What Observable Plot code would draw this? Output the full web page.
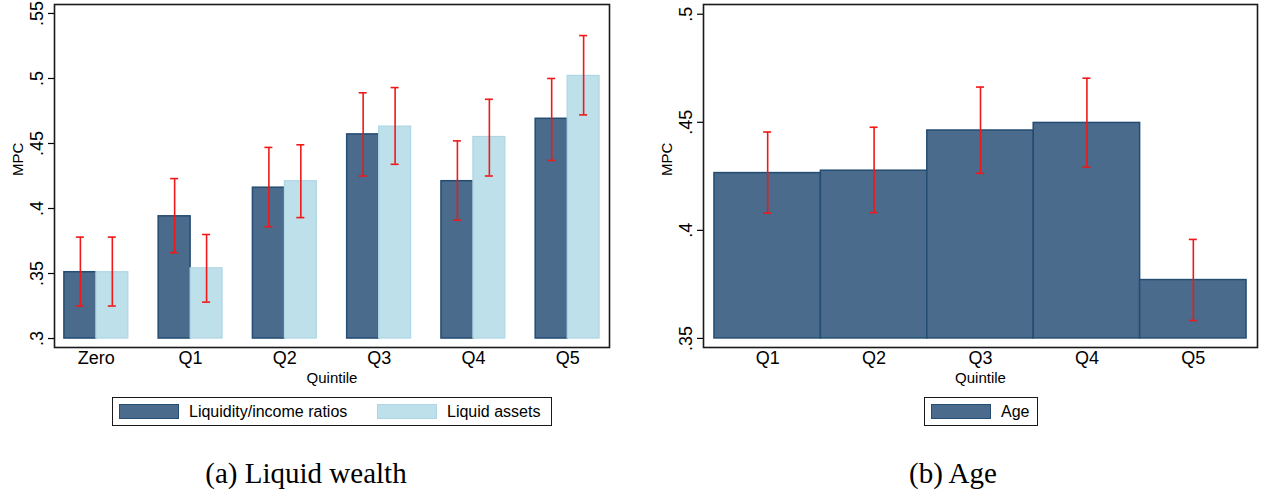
<!DOCTYPE html>
<html><head><meta charset="utf-8">
<script src="https://cdn.jsdelivr.net/npm/d3@7"></script>
<script src="https://cdn.jsdelivr.net/npm/@observablehq/plot@0.6"></script>
<style>
html,body{margin:0;padding:0;background:#fff}
body{width:1261px;height:491px;position:relative;overflow:hidden;font-family:"Liberation Sans",Arial,sans-serif;color:#000}
.panel{position:absolute;top:0}
.legend{position:absolute;top:397px;height:29px;border:1px solid #1a1a1a;box-sizing:border-box;font-size:16px}
.sw{position:absolute;top:6px;width:60px;height:15px;box-sizing:border-box}
.lt{position:absolute;top:0;line-height:27px;white-space:nowrap}
.cap{position:absolute;top:459px;font-family:"Liberation Serif","Times New Roman",serif;font-size:29px;line-height:29px;text-align:center;white-space:nowrap}
</style></head>
<body>
<div id="pa" class="panel" style="left:0"></div>
<div id="pb" class="panel" style="left:631px"></div>
<div class="legend" style="left:112px;width:440px">
  <div class="sw" style="left:6px;background:#4a6b8b;border:1.5px solid #234d72"></div>
  <div class="lt" style="left:76px">Liquidity/income ratios</div>
  <div class="sw" style="left:264px;background:#bee0ea;border:1.5px solid #aed6e4"></div>
  <div class="lt" style="left:334px">Liquid assets</div>
</div>
<div class="legend" style="left:924px;width:114px">
  <div class="sw" style="left:6px;background:#4a6b8b;border:1.5px solid #234d72"></div>
  <div class="lt" style="left:76px">Age</div>
</div>
<div class="cap" style="left:156px;width:300px">(a) Liquid wealth</div>
<div class="cap" style="left:803px;width:300px">(b) Age</div>
<script>
// ---- Panel (a): liquid wealth ----
const categoriesA = ["Zero", "Q1", "Q2", "Q3", "Q4", "Q5"];
const ratioMPC = [0.351, 0.394, 0.416, 0.457, 0.421, 0.469];
const ratioLo  = [0.325, 0.366, 0.386, 0.425, 0.391, 0.437];
const ratioHi  = [0.378, 0.423, 0.447, 0.489, 0.452, 0.500];
const assetsMPC = [0.351, 0.354, 0.421, 0.463, 0.455, 0.502];
const assetsLo  = [0.325, 0.328, 0.393, 0.434, 0.425, 0.472];
const assetsHi  = [0.378, 0.380, 0.449, 0.493, 0.484, 0.533];
const yTicksA = [0.3, 0.35, 0.4, 0.45, 0.5, 0.55];
const baseA = 0.3;

// ---- Panel (b): age ----
const categoriesB = ["Q1", "Q2", "Q3", "Q4", "Q5"];
const ageMPC = [0.4265, 0.4276, 0.4462, 0.4497, 0.3770];
const ageLo  = [0.4080, 0.4082, 0.4264, 0.4293, 0.3583];
const ageHi  = [0.4455, 0.4477, 0.4663, 0.4704, 0.3958];
const yTicksB = [0.35, 0.4, 0.45, 0.5];
const baseB = 0.35;

const fmt = d => String(d).replace(/^0\./, ".");
const DARK = "#4a6b8b", DARK_S = "#234d72", LIGHT = "#bee0ea", LIGHT_S = "#aed6e4", RED = "#f01818";
const font = {fontFamily: "Liberation Sans, Arial, sans-serif", fontSize: "18px", color: "#000", background: "#fff"};

const dataA = categoriesA.map((c, i) => ({cat: c, ratio: ratioMPC[i], rlo: ratioLo[i], rhi: ratioHi[i],
  assets: assetsMPC[i], alo: assetsLo[i], ahi: assetsHi[i]}));
const dataB = categoriesB.map((c, i) => ({cat: c, mpc: ageMPC[i], lo: ageLo[i], hi: ageHi[i]}));

// geometry A
const WA = 630, HA = 390, mlA = 54, mrA = 21, mtA = 4, mbA = 43;
const piA = 0.322, poA = 0.105;
const stepA = (WA - mlA - mrA) / (categoriesA.length - piA + 2 * poA);
const bwA = stepA * (1 - piA), halfA = bwA / 2, qA = bwA / 4, capW = 8;

const plotA = Plot.plot({
  width: WA, height: HA, marginLeft: mlA, marginRight: mrA, marginTop: mtA, marginBottom: mbA,
  style: font,
  x: {domain: categoriesA, paddingInner: piA, paddingOuter: poA, round: false, axis: null},
  y: {domain: [0.2931, 0.5569], axis: null},
  marks: [
    Plot.barY(dataA, {x: "cat", y1: baseA, y2: "ratio", fill: DARK, stroke: DARK_S, strokeWidth: 1.5, insetRight: halfA}),
    Plot.barY(dataA, {x: "cat", y1: baseA, y2: "assets", fill: LIGHT, stroke: LIGHT_S, strokeWidth: 1.2, insetLeft: halfA}),
    Plot.ruleX(dataA, {x: "cat", y1: "rlo", y2: "rhi", dx: -qA, stroke: RED, strokeWidth: 1.6}),
    Plot.ruleX(dataA, {x: "cat", y1: "alo", y2: "ahi", dx: qA, stroke: RED, strokeWidth: 1.6}),
    Plot.tickY(dataA, {x: "cat", y: "rhi", insetLeft: qA - capW/2, insetRight: bwA - qA - capW/2, stroke: RED, strokeWidth: 1.6}),
    Plot.tickY(dataA, {x: "cat", y: "rlo", insetLeft: qA - capW/2, insetRight: bwA - qA - capW/2, stroke: RED, strokeWidth: 1.6}),
    Plot.tickY(dataA, {x: "cat", y: "ahi", insetLeft: bwA - qA - capW/2, insetRight: qA - capW/2, stroke: RED, strokeWidth: 1.6}),
    Plot.tickY(dataA, {x: "cat", y: "alo", insetLeft: bwA - qA - capW/2, insetRight: qA - capW/2, stroke: RED, strokeWidth: 1.6}),
    Plot.axisY({ticks: yTicksA, tickFormat: fmt, tickRotate: -90, tickSize: 6, tickPadding: 6, label: null, strokeWidth: 1.2}),
    Plot.axisX({tickSize: 0, tickPadding: 4, label: null}),
    Plot.text(["MPC"], {frameAnchor: "left", rotate: -90, dx: -36, fontSize: 15}),
    Plot.text(["Quintile"], {frameAnchor: "bottom", dy: 35, fontSize: 15}),
    Plot.frame({stroke: "#1a1a1a", strokeWidth: 1.6})
  ]
});
document.getElementById("pa").appendChild(plotA);

// geometry B
const WB = 630, HB = 390, mlB = 72, mrB = 4, mtB = 4, mbB = 43;
const poB = 0.103;
const stepB = (WB - mlB - mrB) / (categoriesB.length + 2 * poB);
const bwB = stepB;

const plotB = Plot.plot({
  width: WB, height: HB, marginLeft: mlB, marginRight: mrB, marginTop: mtB, marginBottom: mbB,
  style: font,
  x: {domain: categoriesB, paddingInner: 0, paddingOuter: poB, round: false, axis: null},
  y: {domain: [0.3458, 0.5045], axis: null},
  marks: [
    Plot.barY(dataB, {x: "cat", y1: baseB, y2: "mpc", fill: DARK, stroke: DARK_S, strokeWidth: 1.5}),
    Plot.ruleX(dataB, {x: "cat", y1: "lo", y2: "hi", stroke: RED, strokeWidth: 1.6}),
    Plot.tickY(dataB, {x: "cat", y: "hi", insetLeft: bwB/2 - capW/2, insetRight: bwB/2 - capW/2, stroke: RED, strokeWidth: 1.6}),
    Plot.tickY(dataB, {x: "cat", y: "lo", insetLeft: bwB/2 - capW/2, insetRight: bwB/2 - capW/2, stroke: RED, strokeWidth: 1.6}),
    Plot.axisY({ticks: yTicksB, tickFormat: fmt, tickRotate: -90, tickSize: 6, tickPadding: 6, label: null, strokeWidth: 1.2}),
    Plot.axisX({tickSize: 0, tickPadding: 4, label: null}),
    Plot.text(["MPC"], {frameAnchor: "left", rotate: -90, dx: -36, fontSize: 15}),
    Plot.text(["Quintile"], {frameAnchor: "bottom", dy: 35, fontSize: 15}),
    Plot.frame({stroke: "#1a1a1a", strokeWidth: 1.6})
  ]
});
document.getElementById("pb").appendChild(plotB);
</script>
</body></html>
